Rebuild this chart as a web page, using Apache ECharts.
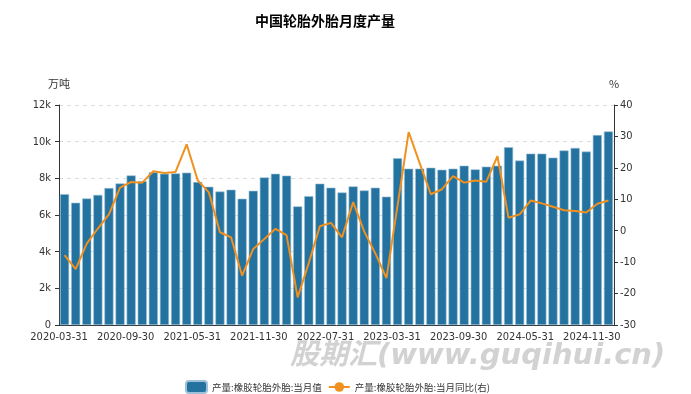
<!DOCTYPE html>
<html>
<head>
<meta charset="utf-8">
<script src="https://cdn.jsdelivr.net/npm/echarts@6/dist/echarts.min.js"></script>
<style>
html,body{margin:0;padding:0;background:#fff;}
#c{width:691px;height:394px;}
</style>
</head>
<body>
<div id="c"></div>
<script>
const categories = [
  '2020-03-31','2020-04-30','2020-05-31','2020-06-30','2020-07-31','2020-08-31','2020-09-30','2020-10-31','2020-11-30','2020-12-31',
  '2021-03-31','2021-04-30','2021-05-31','2021-06-30','2021-07-31','2021-08-31','2021-09-30','2021-10-31','2021-11-30','2021-12-31',
  '2022-03-31','2022-04-30','2022-05-31','2022-06-30','2022-07-31','2022-08-31','2022-09-30','2022-10-31','2022-11-30','2022-12-31',
  '2023-03-31','2023-04-30','2023-05-31','2023-06-30','2023-07-31','2023-08-31','2023-09-30','2023-10-31','2023-11-30','2023-12-31',
  '2024-03-31','2024-04-30','2024-05-31','2024-06-30','2024-07-31','2024-08-31','2024-09-30','2024-10-31','2024-11-30','2024-12-31'
];
const outputValues = [
  7140, 6670, 6900, 7100, 7470, 7720, 8160, 7840, 8330, 8250,
  8270, 8310, 7800, 7540, 7280, 7380, 6890, 7320, 8050, 8250,
  8150, 6470, 7030, 7710, 7490, 7230, 7560, 7340, 7490, 7000,
  9100, 8530, 8530, 8580, 8470, 8530, 8690, 8490, 8640, 8690,
  9700, 8970, 9350, 9350, 9130, 9520, 9660, 9460, 10360, 10560
];
const yoyValues = [
  -7.8, -12.2, -4.1, 0.7, 5.2, 13.7, 15.5, 15.3, 18.9, 18.4,
  18.7, 27.5, 16.0, 12.2, -0.5, -2.1, -14.3, -5.8, -2.6, 0.6,
  -1.4, -21.2, -10.3, 1.4, 2.5, -2.1, 9.1, -0.3, -7.2, -15.1,
  8.0, 31.4, 21.4, 11.6, 13.2, 17.4, 15.3, 16.0, 15.6, 23.7,
  4.1, 5.2, 9.6, 8.7, 7.6, 6.5, 6.3, 5.8, 8.6, 9.6
];
const seriesNames = ['产量:橡胶轮胎外胎:当月值', '产量:橡胶轮胎外胎:当月同比(右)'];
const titleText = '中国轮胎外胎月度产量';
const watermarkText = '股期汇(www.guqihui.cn)';

const labelFont = "'Liberation Sans Narrow','DejaVu Sans Condensed','Noto Sans',sans-serif";
const cjkFont = "'Noto Sans CJK SC','Noto Sans',sans-serif";

const chart = echarts.init(document.getElementById('c'), null, {renderer: 'canvas'});
chart.setOption({
  animation: false,
  backgroundColor: '#ffffff',
  title: {
    text: titleText,
    left: 250, top: 9,
    textStyle: {fontSize: 14, fontWeight: 'bold', color: '#000', fontFamily: cjkFont}
  },
  grid: {left: 59, right: 77, top: 105, bottom: 69, containLabel: false},
  legend: {
    left: 180, top: 375,
    itemWidth: 21, itemHeight: 12, itemGap: 6,
    textStyle: {fontSize: 9.5, color: '#333', fontFamily: cjkFont},
    data: [
      {name: seriesNames[0], icon: 'roundRect'},
      {name: seriesNames[1]}
    ]
  },
  xAxis: {
    type: 'category',
    data: categories,
    boundaryGap: true,
    axisLine: {lineStyle: {color: '#333', width: 1}},
    axisTick: {interval: 5, length: 4, lineStyle: {color: '#333'}},
    axisLabel: {
      interval: 5, fontSize: 11, color: '#333', margin: 7,
      fontFamily: labelFont, padding: [0, 11, 0, 0]
    }
  },
  yAxis: [
    {
      type: 'value', min: 0, max: 12000, interval: 2000,
      name: '万吨', nameLocation: 'end', nameGap: 16,
      nameTextStyle: {fontSize: 11, color: '#333', fontFamily: cjkFont, align: 'center'},
      axisLine: {show: true, lineStyle: {color: '#333'}},
      axisTick: {show: true, length: 4, lineStyle: {color: '#333'}},
      axisLabel: {fontSize: 11, color: '#333', margin: 8, fontFamily: labelFont,
        formatter: v => v === 0 ? '0' : (v / 1000) + 'k'},
      splitLine: {show: true, lineStyle: {color: '#dcdcdc', type: [4, 4]}}
    },
    {
      type: 'value', min: -30, max: 40, interval: 10,
      name: '%', nameLocation: 'end', nameGap: 16,
      nameTextStyle: {fontSize: 11, color: '#333', fontFamily: cjkFont, align: 'center'},
      axisLine: {show: true, lineStyle: {color: '#333'}},
      axisTick: {show: true, length: 4, lineStyle: {color: '#333'}},
      axisLabel: {fontSize: 11, color: '#333', margin: 6, fontFamily: labelFont},
      splitLine: {show: false}
    }
  ],
  series: [
    {
      name: seriesNames[0], type: 'bar', yAxisIndex: 0,
      data: outputValues,
      barCategoryGap: '18%',
      itemStyle: {color: '#23729f', borderColor: '#9cc1d8', borderWidth: 0.6}
    },
    {
      name: seriesNames[1], type: 'line', yAxisIndex: 1,
      data: yoyValues,
      symbol: 'circle', symbolSize: 7, showSymbol: false,
      lineStyle: {color: '#f0901e', width: 2},
      itemStyle: {color: '#f0901e'},
      z: 5
    }
  ],
  graphic: [
    {
      type: 'text', left: 290, top: 342, z: 100, silent: true,
      style: {
        text: watermarkText,
        font: "italic bold 29px 'DejaVu Sans','Noto Sans CJK SC',sans-serif",
        fill: 'rgba(165,165,165,0.5)'
      }
    }
  ]
});
</script>
</body>
</html>
